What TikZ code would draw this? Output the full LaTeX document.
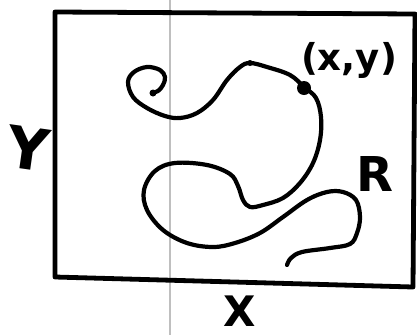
\documentclass[tikz,border=0pt]{standalone}
\usepackage{fontspec}
\setmainfont{DejaVu Sans}
\begin{document}
\begin{tikzpicture}[x=1pt,y=-1pt,
  ink/.style={line width=4.2pt,line cap=round,line join=round,black},
  scanline/.style={line width=2pt,black!25},
  lbl/.style={inner sep=0pt,text=black}]
\useasboundingbox (0,0) rectangle (417,335);
\fill[white] (0,0) rectangle (417,335);
% scanner artefact line
\coordinate (st) at (170,0);
\coordinate (sb) at (170,335);
\draw[scanline] (st) -- (sb);
% region box
\coordinate (tl) at (55,12);
\coordinate (tr) at (415,14);
\coordinate (br) at (413,287);
\coordinate (bl) at (55,277);
\draw[ink,line width=4.8pt] (tl) -- (tr) -- (br) -- (bl) -- cycle;
% curve
\draw[ink] plot[smooth,tension=0.6] coordinates {
 (152,93) (158,91) (163,85) (165,77) (160,70) (147,67) (134,72) (128,82)
 (133,97) (147,108) (165,116) (180,118) (197,113) (213,100) (227,80)
 (240,67) (250,63) (267,67) (290,75) (304,87) (316,98) (321,117)
 (320,140) (313,163) (300,183) (283,198) (263,205) (250,207) (243,200)
 (238,186) (230,174) (207,165) (175,163) (155,171) (144,190) (147,210)
 (163,230) (187,243) (213,247) (235,243) (260,233) (283,217) (307,200)
 (327,192) (343,192) (356,200) (360,217) (357,233) (350,244) (330,248)
 (302,252) (291,258) (287,265)};
\node[circle,fill=black,inner sep=0pt,minimum size=6pt] (small) at (250,63) {};
\node[circle,fill=black,inner sep=0pt,minimum size=14pt] (pt) at (304,88) {};
\node[circle,fill=black,inner sep=0pt,minimum size=7pt] (tail) at (153,93) {};
% labels
\node[lbl,font=\fontsize{37}{37}\selectfont\bfseries] (xy) at (349,60) {(x,y)};
\node[lbl,font=\fontsize{48}{48}\selectfont\bfseries] (R) at (375,174) {R};
\node[lbl,font=\fontsize{58}{58}\selectfont\bfseries,rotate=-8] (Y) at (28,148) {Y};
\node[lbl,font=\fontsize{42}{42}\selectfont\bfseries] (X) at (240,311) {X};
\end{tikzpicture}
\end{document}
